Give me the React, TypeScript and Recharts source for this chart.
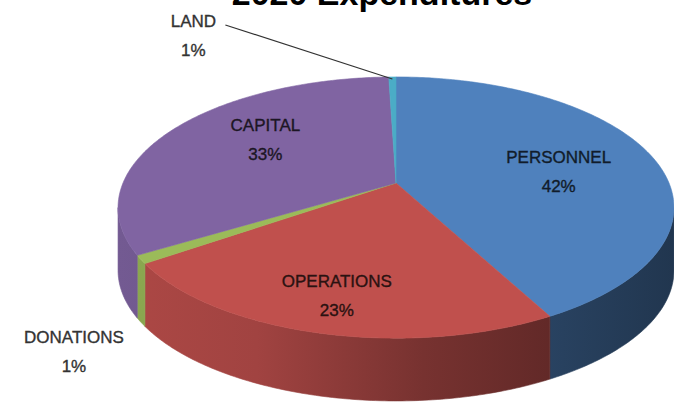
import React from "react";
import { PieChart, Pie } from "recharts";

// ---------- data ----------
const categories = ["PERSONNEL", "OPERATIONS", "DONATIONS", "CAPITAL", "LAND"];
const shares = [42, 23, 1, 33, 0.5];
const colors = ["#4F81BD", "#C0504D", "#9BBB59", "#8064A2", "#4BACC6"];
const title = "2020 Expenditures";

const data = categories.map((name, i) => ({ name, value: shares[i], fill: colors[i] }));

// ---------- 3D projection helpers ----------
const K = 0.188; // perspective strength
const Y_RATIO = 0.4615; // vertical squash of the disc
const DEPTH_RATIO = 0.23; // side wall height relative to radius
const RAD = Math.PI / 180;

function proj(cx: number, cy: number, R: number, aDeg: number, r = 1): [number, number] {
  const u = r * Math.cos(aDeg * RAD);
  const v = -r * Math.sin(aDeg * RAD);
  const s = 1 / (1 - K * v);
  return [cx + R * u * s, cy + R * Y_RATIO * v * s];
}

function arcPoints(cx: number, cy: number, R: number, a1: number, a2: number, dy = 0): string[] {
  const n = Math.max(2, Math.ceil(Math.abs(a2 - a1) / 0.75));
  const pts: string[] = [];
  for (let i = 0; i <= n; i++) {
    const a = a1 + ((a2 - a1) * i) / n;
    const [x, y] = proj(cx, cy, R, a);
    pts.push(`${x.toFixed(2)},${(y + dy).toFixed(2)}`);
  }
  return pts;
}

function shade(hex: string, f: number): string {
  const h = hex.replace("#", "");
  const r = Math.round(parseInt(h.slice(0, 2), 16) * f);
  const g = Math.round(parseInt(h.slice(2, 4), 16) * f);
  const b = Math.round(parseInt(h.slice(4, 6), 16) * f);
  return `rgb(${r},${g},${b})`;
}

const TopFace = (props: any) => {
  const { cx, cy, outerRadius, startAngle, endAngle, fill } = props;
  const pts = arcPoints(cx, cy, outerRadius, startAngle, endAngle);
  const d = `M${cx},${cy} L${pts.join(" L")} Z`;
  return <path d={d} fill={fill} stroke={fill} strokeWidth={0.6} strokeLinejoin="round" />;
};

const Wall = (props: any) => {
  const { cx, cy, outerRadius: R, startAngle, endAngle, fill, index } = props;
  const lo = Math.min(startAngle, endAngle);
  const hi = Math.max(startAngle, endAngle);
  const edge = Math.asin(K) / RAD;
  const depth = R * DEPTH_RATIO;
  const gid = `wall-grad-${index}`;
  const paths: React.ReactNode[] = [];
  [-360, 0, 360].forEach((off) => {
    const v0 = -180 + edge + off;
    const v1 = -edge + off;
    const a = Math.max(lo, v0);
    const b = Math.min(hi, v1);
    if (b > a) {
      const top = arcPoints(cx, cy, R, a, b);
      const bottom = arcPoints(cx, cy, R, a, b, depth).reverse();
      const d = `M${top.join(" L")} L${bottom.join(" L")} Z`;
      paths.push(
        <path key={off} d={d} fill={`url(#${gid})`} stroke={`url(#${gid})`} strokeWidth={0.6} />
      );
    }
  });
  if (!paths.length) return <g />;
  return (
    <g>
      <defs>
        <linearGradient
          id={gid}
          gradientUnits="userSpaceOnUse"
          x1={cx - R * 1.02}
          x2={cx + R * 1.02}
          y1={0}
          y2={0}
        >
          <stop offset="0" stopColor={shade(fill, 0.9)} />
          <stop offset="0.25" stopColor={shade(fill, 0.84)} />
          <stop offset="0.55" stopColor={shade(fill, 0.62)} />
          <stop offset="0.8" stopColor={shade(fill, 0.5)} />
          <stop offset="1" stopColor={shade(fill, 0.42)} />
        </linearGradient>
      </defs>
      {paths}
    </g>
  );
};

const labelPlacement: Record<string, { r: number; dx: number; dy: number; inside: boolean; leader?: boolean }> = {
  PERSONNEL: { r: 0.6, dx: 8, dy: 7, inside: true },
  CAPITAL: { r: 0.6, dx: 6, dy: -9, inside: true },
  OPERATIONS: { r: 0.6, dx: -16, dy: 30, inside: true },
  DONATIONS: { r: 1, dx: -67, dy: 93, inside: false },
  LAND: { r: 1, dx: -199, dy: -41, inside: false, leader: true },
};

const renderLabel = (props: any) => {
  const { cx, cy, midAngle, outerRadius, name, percent, fill } = props;
  const p = labelPlacement[name];
  if (!p) return null;
  const [ex, ey] = proj(cx, cy, outerRadius, midAngle, p.r);
  const lx = ex + p.dx;
  const ly = ey + p.dy;
  const color = p.inside ? shade(fill, 0.22) : "#333333";
  const pct = Math.round(percent * 100);
  const textProps = {
    textAnchor: "middle" as const,
    dominantBaseline: "central" as const,
    fill: color,
    stroke: color,
    strokeWidth: 0.35,
    fontSize: 17,
    fontFamily: "'Liberation Sans', Arial, sans-serif",
  };
  return (
    <g>
      {p.leader && (
        <line x1={lx + 32} y1={ly - 11} x2={ex} y2={ey + 2} stroke="#333" strokeWidth={1.2} />
      )}
      <text x={lx} y={ly - 14.5} {...textProps}>
        {name}
      </text>
      <text x={lx} y={ly + 14.5} {...textProps}>
        {`${pct}%`}
      </text>
    </g>
  );
};

export default function App() {
  return (
    <div style={{ position: "absolute", left: 0, top: 0, width: 674, height: 403, background: "#fff" }}>
      <PieChart width={674} height={403} margin={{ top: 0, right: 0, bottom: 0, left: 0 }}>
        <Pie
          data={data}
          dataKey="value"
          nameKey="name"
          cx={396}
          cy={183}
          outerRadius={273}
          startAngle={90}
          endAngle={-270}
          isAnimationActive={false}
          shape={Wall}
          label={false}
          labelLine={false}
        />
        <Pie
          data={data}
          dataKey="value"
          nameKey="name"
          cx={396}
          cy={183}
          outerRadius={273}
          startAngle={90}
          endAngle={-270}
          isAnimationActive={false}
          shape={TopFace}
          label={renderLabel}
          labelLine={false}
        />
      </PieChart>
      <svg width={674} height={403} style={{ position: "absolute", left: 0, top: 0, pointerEvents: "none" }}>
        <text
          x={382}
          y={5}
          textAnchor="middle"
          fontSize={34}
          fontWeight="bold"
          fontFamily="'Liberation Sans', Arial, sans-serif"
          fill="#000"
        >
          {title}
        </text>
      </svg>
    </div>
  );
}
